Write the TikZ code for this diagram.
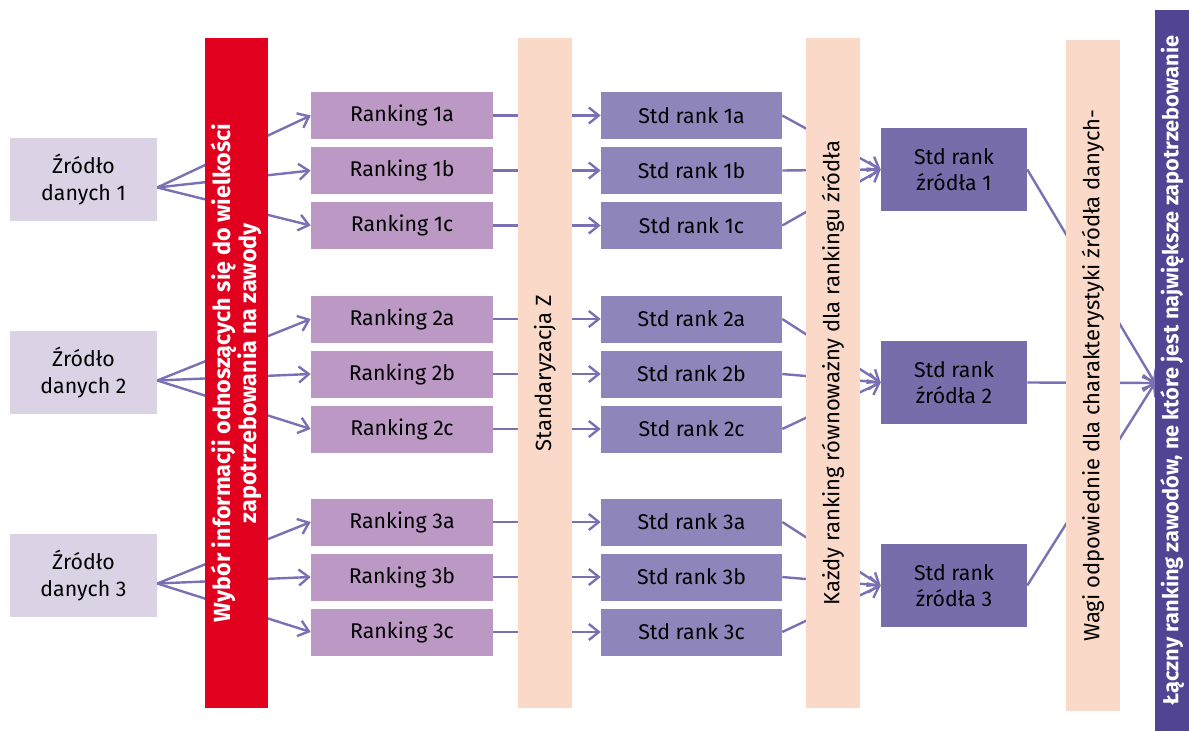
\documentclass[tikz,border=0pt]{standalone}
\usepackage{fontspec}
\setmainfont{Fira Sans}
\usetikzlibrary{arrows.meta}

\definecolor{srcfill}{HTML}{DCD2E6}
\definecolor{rankfill}{HTML}{BC98C5}
\definecolor{stdfill}{HTML}{8E85BA}
\definecolor{sumfill}{HTML}{786DAB}
\definecolor{barfill}{HTML}{FAD9C9}
\definecolor{redfill}{HTML}{E1001E}
\definecolor{totfill}{HTML}{514593}
\definecolor{flowline}{HTML}{7A70B3}

\tikzset{
  box/.style={rectangle, inner sep=0pt, align=center, font=\fontsize{16}{20}\selectfont},
  srcbox/.style={box, fill=srcfill, minimum width=110.25pt, minimum height=62.25pt},
  rankbox/.style={box, fill=rankfill, minimum width=136.5pt, minimum height=35.25pt},
  stdbox/.style={box, fill=stdfill, minimum width=135.75pt, minimum height=35.25pt},
  sumbox/.style={box, fill=sumfill, minimum width=109.5pt, minimum height=62.25pt},
  bar/.style={rectangle, inner sep=0pt, align=center, rotate=90, minimum width=502.5pt, minimum height=40.5pt, font=\fontsize{16.5}{20}\selectfont},
  flow/.style={draw=flowline, line width=1.8pt, -{Straight Barb[length=7.5pt,width=12pt]}}
}

\begin{document}
\begin{tikzpicture}[x=0.75pt, y=-0.75pt]
  \useasboundingbox (0,0) rectangle (1189,731);
  % boxes of the three sources
  \foreach \g/\y/\s/\t in {1/170.5/179.5/169.5, 2/374/372.5/382.5, 3/577/575.5/585.5} {
    \node[srcbox] (src\g) at (83.5,\s) {Źródło\\danych \g};
    \foreach \r/\d in {a/-55, b/0, c/55} {
      \node[rankbox] (rank\g\r) at (402,\y+\d) {Ranking \g\r};
      \node[stdbox] (std\g\r) at (691.5,\y+\d) {Std rank \g\r};
    }
    \node[sumbox] (sum\g) at (954,\t) {Std rank\\źródła \g};
  }
  \coordinate (total) at (1155,383);
  % connectors, drawn below the bars
  \foreach \g in {1,2,3} {
    \foreach \r in {a,b,c} {
      \draw[flow] ([yshift=-6pt]src\g.east) -- (rank\g\r.west);
      \draw[flow] (rank\g\r.east) -- (std\g\r.west);
      \draw[flow] (std\g\r.east) -- (sum\g.west);
    }
    \draw[flow] (sum\g.east) -- (total);
  }
  % vertical bars
  \node[bar, fill=redfill, text=white, font=\fontsize{17.5}{20}\selectfont\bfseries, minimum height=47.25pt] (select) at (236.5,373)
    {Wybór informacji odnoszących się do wielkości\\zapotrzebowania na zawody};
  \node[bar, fill=barfill] (zscore) at (545,373) {Standaryzacja Z};
  \node[bar, fill=barfill] (equal) at (833,373) {Każdy ranking równoważny dla rankingu źródła};
  \node[bar, fill=barfill, minimum width=503.25pt] (weights) at (1093,375.5) {Wagi odpowiednie dla charakterystyki źródła danych-};
  \node[bar, fill=totfill, text=white, font=\fontsize{16.3}{18}\selectfont\bfseries, minimum width=540.75pt, minimum height=25.5pt] (total bar) at (1172,370.5)
    {Łączny ranking zawodów, ne które jest największe zapotrzebowanie};
\end{tikzpicture}
\end{document}
